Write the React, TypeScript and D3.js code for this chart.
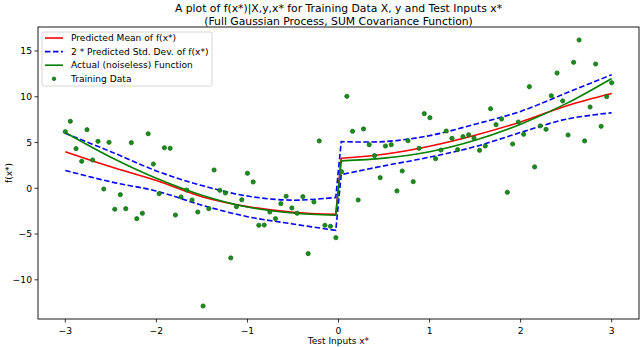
import React from "react";
import * as d3 from "d3";

const trainX = [
  -3.0, -2.945, -2.882, -2.82, -2.762, -2.7, -2.641, -2.578, -2.52, -2.457,
  -2.396, -2.336, -2.275, -2.215, -2.154, -2.09, -2.033, -1.97, -1.912, -1.849,
  -1.791, -1.729, -1.666, -1.608, -1.545, -1.487, -1.424, -1.366, -1.303, -1.242,
  -1.183, -1.121, -1.062, -1.0, -0.937, -0.875, -0.816, -0.754, -0.692, -0.633,
  -0.575, -0.512, -0.454, -0.391, -0.333, -0.27, -0.212, -0.149, -0.088, -0.029,
  0.033, 0.092, 0.154, 0.216, 0.275, 0.337, 0.396, 0.458, 0.516, 0.579,
  0.642, 0.7, 0.763, 0.821, 0.884, 0.942, 1.004, 1.066, 1.125, 1.184,
  1.246, 1.308, 1.367, 1.429, 1.488, 1.549, 1.612, 1.67, 1.73, 1.791,
  1.854, 1.912, 1.975, 2.033, 2.096, 2.154, 2.216, 2.279, 2.337, 2.4,
  2.462, 2.521, 2.582, 2.642, 2.703, 2.763, 2.824, 2.884, 2.945, 3.0,
];
const trainY = [
  6.18, 7.32, 4.33, 2.95, 6.4, 3.09, 5.13, -0.08, 5.02, -2.29,
  -0.7, -2.23, 4.98, -3.32, -2.73, 5.96, 2.65, -0.59, 4.43, 4.37,
  -2.92, -0.95, -0.19, -1.28, -2.59, -12.86, -2.23, 2.0, -0.22, -0.51,
  -7.61, -2.01, -1.25, 1.64, 0.69, -4.04, -4.01, -2.59, -3.32, -1.68,
  -0.87, -2.15, -2.73, -0.92, -7.14, -1.5, 5.17, -4.04, -4.15, -5.4,
  1.81, 10.05, 6.23, -1.28, 6.48, 4.76, 3.56, 1.16, 4.62, 4.76,
  -0.29, 1.89, 5.2, 0.72, 4.37, 8.15, 7.71, 3.23, 4.18, 6.26,
  5.46, 4.22, 5.64, 5.85, 5.49, 4.15, 4.62, 8.69, 6.95, 7.57,
  -0.44, 4.84, 7.24, 5.9, 11.1, 2.33, 6.81, 6.44, 10.11, 12.59,
  9.54, 5.82, 13.76, 16.2, 5.17, 8.88, 13.58, 6.77, 10.01, 11.53,
];

// test inputs (two segments either side of the discontinuity)
const testXLeft = [-3.0, -2.5, -2.0, -1.5, -1.0, -0.5, -0.03];
const testXRight = [0.03, 0.5, 1.0, 1.5, 2.0, 2.5, 3.0];

const meanLeft = [4.0, 2.35, 0.85, -0.92, -2.0, -2.62, -2.85];
const meanRight = [3.28, 3.72, 4.6, 5.8, 7.25, 9.0, 10.35];
const upperLeft = [6.0, 4.0, 1.9, 0.3, -0.85, -1.3, -1.0];
const upperRight = [5.1, 5.1, 5.75, 7.0, 8.4, 10.4, 12.4];
const lowerLeft = [1.95, 0.7, -0.3, -1.85, -3.1, -3.9, -4.6];
const lowerRight = [1.5, 2.45, 3.4, 4.55, 6.1, 7.55, 8.25];
const actualLeft = [6.1, 3.4, 1.1, -0.75, -2.05, -2.7, -2.95];
const actualRight = [3.0, 3.3, 4.0, 5.25, 7.0, 9.25, 12.0];

const xTicks = [-3, -2, -1, 0, 1, 2, 3];
const yTicks = [-10, -5, 0, 5, 10, 15];

const titleLines = [
  "A plot of f(x*)|X,y,x* for Training Data X, y and Test Inputs x*",
  "(Full Gaussian Process, SUM Covariance Function)",
];
const legendLabels = [
  "Predicted Mean of f(x*)",
  "2 * Predicted Std. Dev. of f(x*)",
  "Actual (noiseless) Function",
  "Training Data",
];

const W = 640;
const H = 347;
const L = 38;
const R = 639;
const T = 27;
const B = 319;
const FONT = "DejaVu Sans, sans-serif";

const fmt = (v: number) => (v < 0 ? "\u2212" + Math.abs(v) : String(v));

export default function App() {
  const x = d3.scaleLinear().domain([-3.3, 3.3]).range([L, R]);
  const y = d3.scaleLinear().domain([-14.28, 17.62]).range([B, T]);

  const path = (xs: number[], ys: number[]) => {
    const l = d3
      .line<[number, number]>()
      .curve(d3.curveCatmullRom.alpha(0.5))
      .x((d) => x(d[0]))
      .y((d) => y(d[1]));
    return l(xs.map((v, i) => [v, ys[i]] as [number, number])) || "";
  };
  // full path: left segment, vertical jump, right segment
  const full = (lx: number[], ly: number[], rx: number[], ry: number[]) => {
    const a = path(lx, ly);
    const b = path(rx, ry).replace(/^M/, "L");
    return a + b;
  };

  const meanD = full(testXLeft, meanLeft, testXRight, meanRight);
  const upD = full(testXLeft, upperLeft, testXRight, upperRight);
  const loD = full(testXLeft, lowerLeft, testXRight, lowerRight);
  const actD = full(testXLeft, actualLeft, testXRight, actualRight);

  const legX = 42;
  const legY = 32;
  const rowH = 13.6;
  const dotFill = "#1f8a1f";
  const dotStroke = "#0a700a";

  return (
    <svg
      width={W}
      height={H}
      style={{ position: "absolute", left: 0, top: 0, background: "#fff" }}
      fontFamily={FONT}
    >
      <rect x={0} y={0} width={W} height={H} fill="#fff" />
      {titleLines.map((t, i) => (
        <text
          key={i}
          x={(L + R) / 2}
          y={12 + i * 13}
          textAnchor="middle"
          fontSize={10.8}
          fill="#000"
        >
          {t}
        </text>
      ))}

      <defs>
        <clipPath id="plotclip">
          <rect x={L} y={T} width={R - L} height={B - T} />
        </clipPath>
      </defs>

      <g clipPath="url(#plotclip)">
        <path d={meanD} fill="none" stroke="#ff0000" strokeWidth={1.6} />
        <path
          d={upD}
          fill="none"
          stroke="#0000ff"
          strokeWidth={1.6}
          strokeDasharray="5.5,2.5"
        />
        <path
          d={loD}
          fill="none"
          stroke="#0000ff"
          strokeWidth={1.6}
          strokeDasharray="5.5,2.5"
        />
        <path d={actD} fill="none" stroke="#008000" strokeWidth={1.6} />
        {trainX.map((v, i) => (
          <circle
            key={i}
            cx={x(v)}
            cy={y(trainY[i])}
            r={2.1}
            fill={dotFill}
            stroke={dotStroke}
            strokeWidth={0.8}
          />
        ))}
      </g>

      <rect
        x={L}
        y={T}
        width={R - L}
        height={B - T}
        fill="none"
        stroke="#000"
        strokeWidth={0.9}
      />

      {xTicks.map((t) => (
        <g key={t}>
          <line x1={x(t)} x2={x(t)} y1={B} y2={B + 3.5} stroke="#000" strokeWidth={0.8} />
          <text x={x(t)} y={B + 14.5} textAnchor="middle" fontSize={9.2} fill="#000">
            {fmt(t)}
          </text>
        </g>
      ))}
      {yTicks.map((t) => (
        <g key={t}>
          <line x1={L - 3.5} x2={L} y1={y(t)} y2={y(t)} stroke="#000" strokeWidth={0.8} />
          <text
            x={L - 6}
            y={y(t)}
            dy="0.35em"
            textAnchor="end"
            fontSize={9.2}
            fill="#000"
          >
            {fmt(t)}
          </text>
        </g>
      ))}

      <text x={(L + R) / 2} y={344} textAnchor="middle" fontSize={9} fill="#000">
        Test Inputs x*
      </text>
      <text
        transform={`translate(12, ${(T + B) / 2}) rotate(-90)`}
        textAnchor="middle"
        fontSize={9}
        fill="#000"
      >
        f(x*)
      </text>

      <g>
        <rect
          x={legX}
          y={legY}
          width={170}
          height={54}
          rx={2}
          fill="#fff"
          fillOpacity={0.8}
          stroke="#cccccc"
          strokeWidth={0.8}
        />
        {legendLabels.map((lab, i) => {
          const cy = legY + 6 + i * rowH;
          return (
            <g key={i}>
              {i === 0 && (
                <line x1={legX + 3} x2={legX + 21} y1={cy} y2={cy} stroke="#ff0000" strokeWidth={1.6} />
              )}
              {i === 1 && (
                <line
                  x1={legX + 3}
                  x2={legX + 21}
                  y1={cy}
                  y2={cy}
                  stroke="#0000ff"
                  strokeWidth={1.6}
                  strokeDasharray="5.5,2.5"
                />
              )}
              {i === 2 && (
                <line x1={legX + 3} x2={legX + 21} y1={cy} y2={cy} stroke="#008000" strokeWidth={1.6} />
              )}
              {i === 3 && (
                <circle cx={legX + 12} cy={cy} r={1.8} fill={dotFill} stroke={dotStroke} strokeWidth={0.8} />
              )}
              <text x={legX + 29} y={cy} dy="0.35em" fontSize={9.1} fill="#000">
                {lab}
              </text>
            </g>
          );
        })}
      </g>
    </svg>
  );
}
